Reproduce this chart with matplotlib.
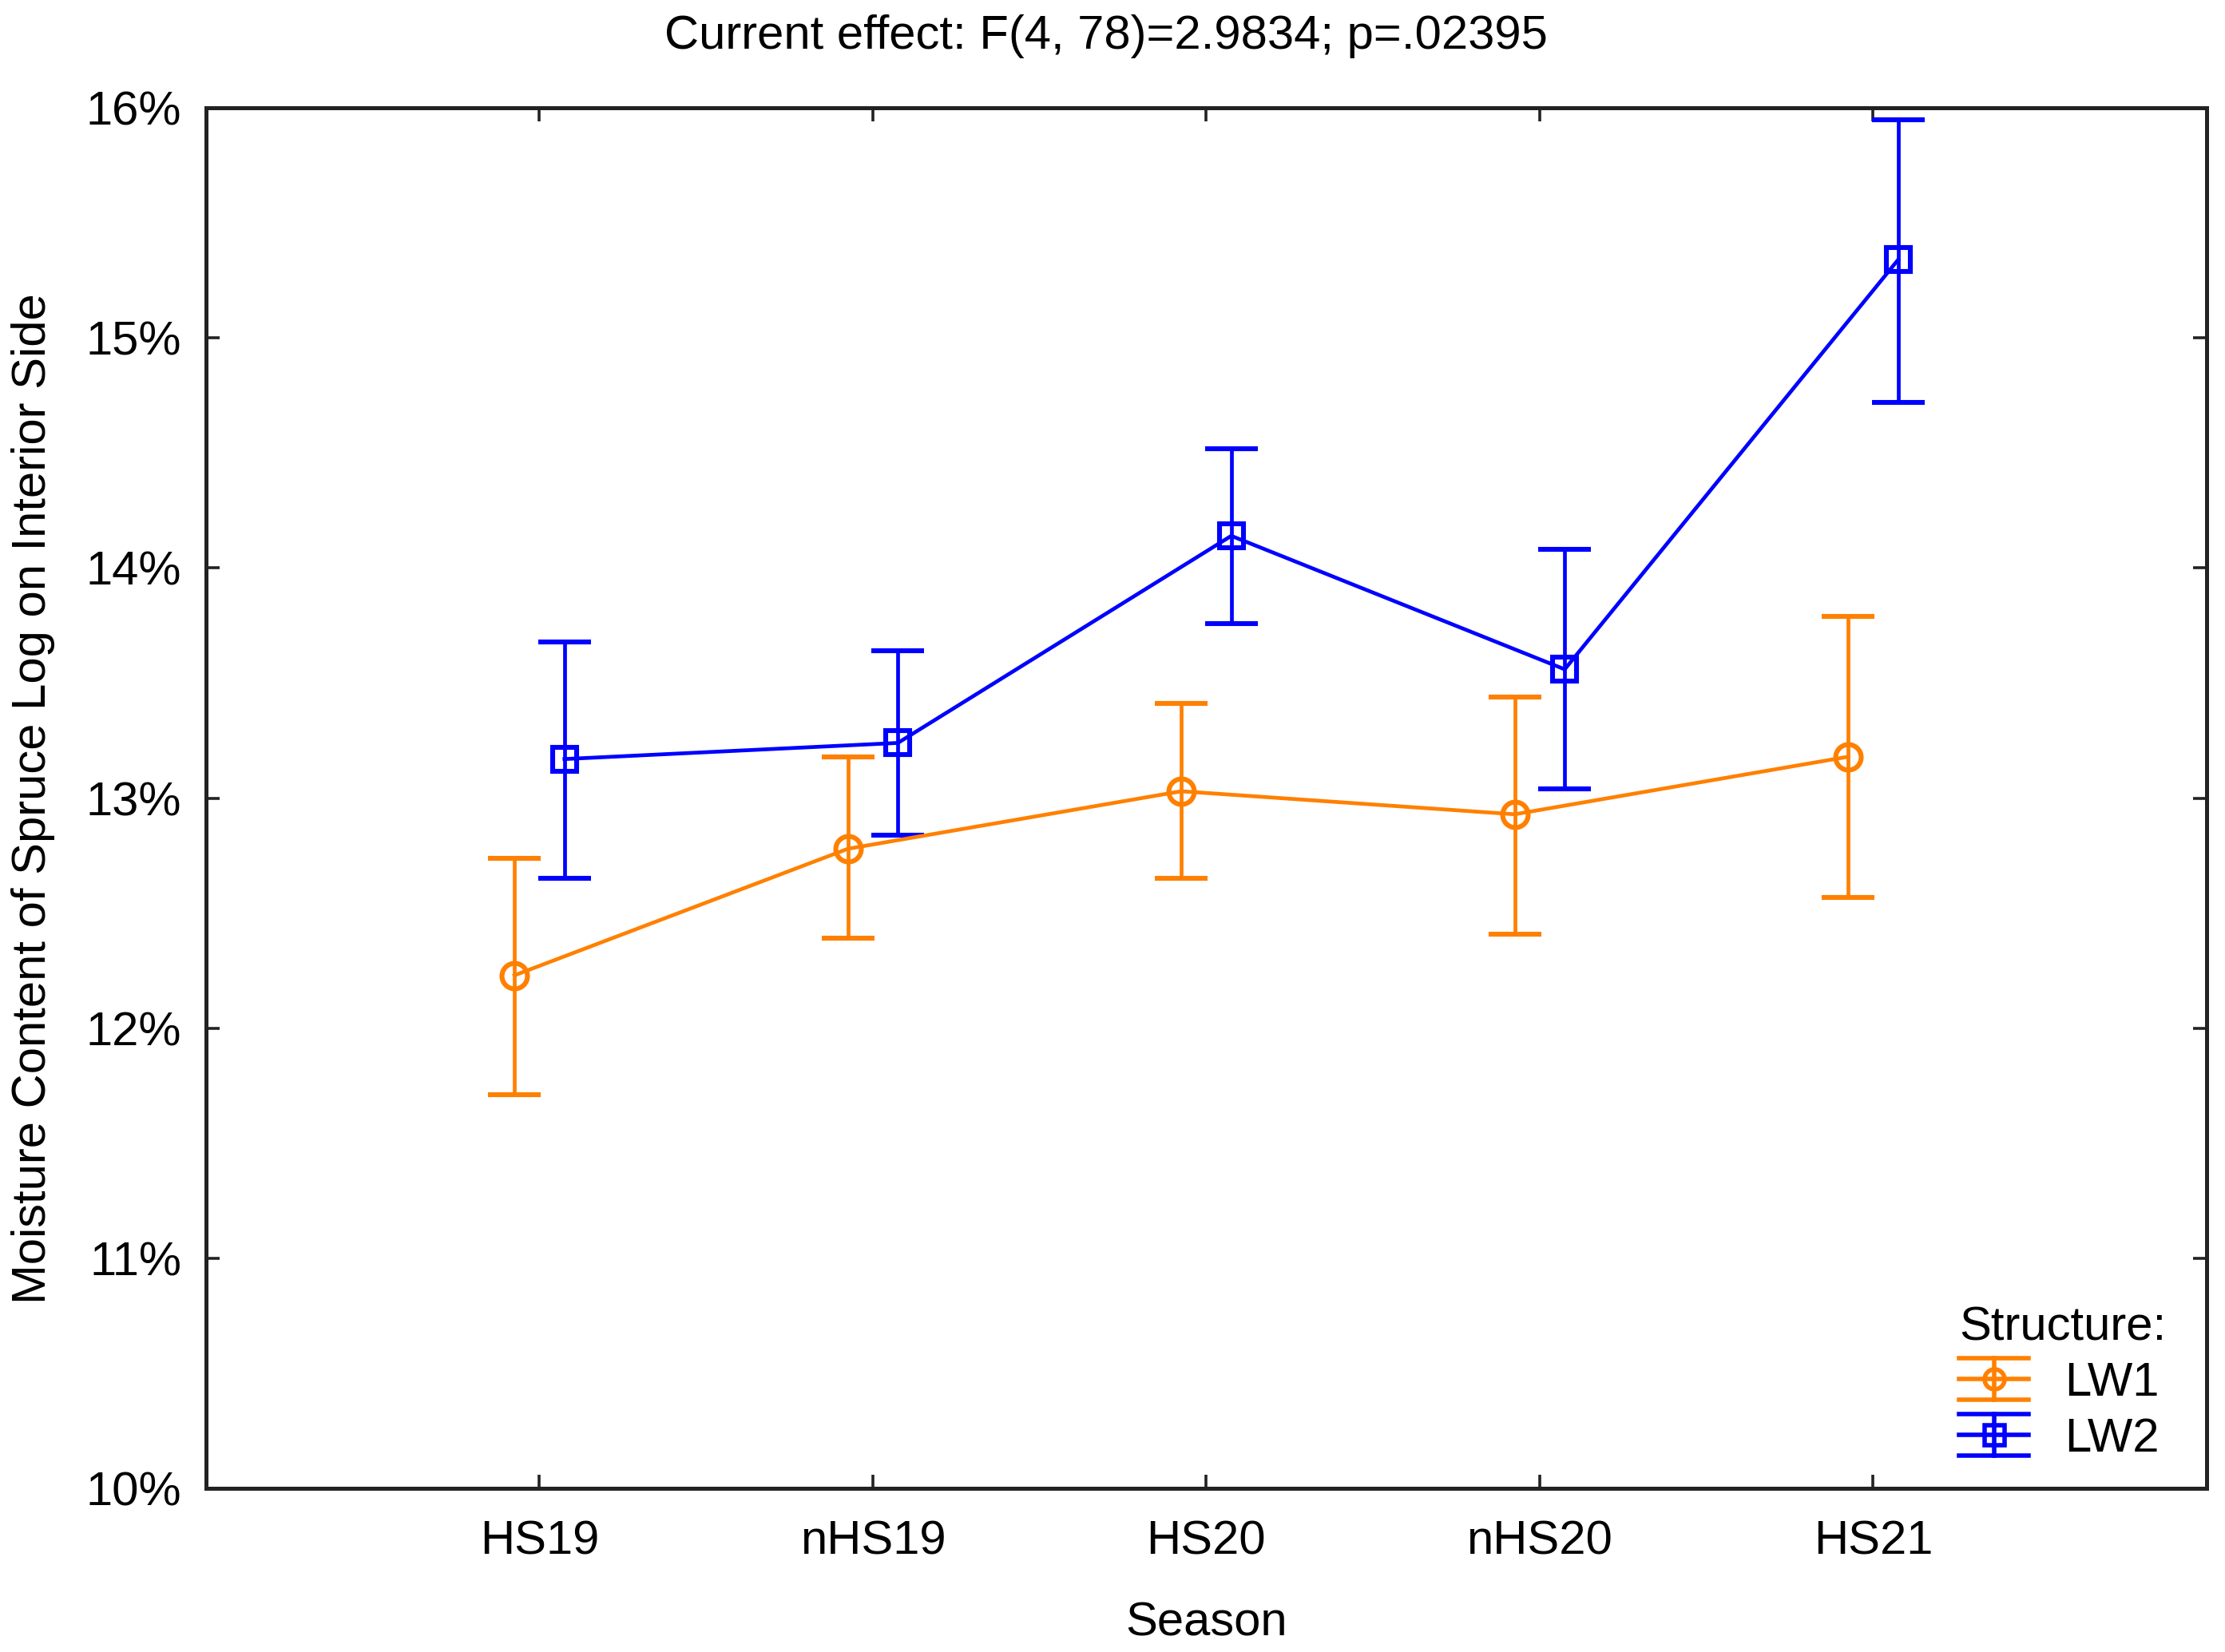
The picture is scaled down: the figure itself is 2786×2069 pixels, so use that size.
import matplotlib.pyplot as plt
from matplotlib.legend_handler import HandlerBase
from matplotlib.lines import Line2D
from matplotlib.ticker import FuncFormatter

plt.rcParams['font.family'] = ['Liberation Sans', 'DejaVu Sans']

seasons = ['HS19', 'nHS19', 'HS20', 'nHS20', 'HS21']

lw1_mean = [12.23, 12.78, 13.03, 12.93, 13.18]
lw1_upper = [12.74, 13.18, 13.41, 13.44, 13.79]
lw1_lower = [11.71, 12.39, 12.65, 12.41, 12.57]

lw2_mean = [13.17, 13.24, 14.14, 13.56, 15.34]
lw2_upper = [13.68, 13.64, 14.52, 14.08, 15.95]
lw2_lower = [12.65, 12.84, 13.76, 13.04, 14.72]

ORANGE = '#ff8000'
BLUE = '#0000ff'
OFFSET = 0.075
FS = 21.5


class HandlerStructure(HandlerBase):
    def create_artists(self, legend, orig_handle, xdescent, ydescent,
                       width, height, fontsize, trans):
        color = orig_handle.get_color()
        marker = orig_handle.get_marker()
        ymid = height / 2 - ydescent
        dy = height * 0.62
        x0, x1 = -xdescent, -xdescent + width
        xm = (x0 + x1) / 2
        artists = []
        for y in (ymid - dy, ymid, ymid + dy):
            artists.append(Line2D([x0, x1], [y, y], color=color, lw=2.0))
        artists.append(Line2D([xm, xm], [ymid - dy, ymid + dy], color=color, lw=2.0))
        artists.append(Line2D([xm], [ymid], marker=marker, markersize=9,
                              markerfacecolor='none', markeredgecolor=color,
                              markeredgewidth=2.0, linestyle='none'))
        for a in artists:
            a.set_transform(trans)
        return artists


def draw_series(ax, shift, mean, upper, lower, color, marker, size, label):
    x = [i + shift for i in range(len(mean))]
    yerr = [[m - lo for m, lo in zip(mean, lower)],
            [up - m for m, up in zip(mean, upper)]]
    ax.errorbar(x, mean, yerr=yerr, color=color, lw=1.7, elinewidth=1.7,
                capsize=12, capthick=2.0, marker=marker, markersize=size,
                markerfacecolor='none', markeredgewidth=2.2, zorder=3)
    return Line2D([], [], color=color, marker=marker, label=label)


fig = plt.figure(figsize=(13.93, 10.345), dpi=200)
ax = fig.add_axes([0.0926, 0.099, 0.8991, 0.8357])

h1 = draw_series(ax, -OFFSET, lw1_mean, lw1_upper, lw1_lower, ORANGE, 'o', 11.5, 'LW1')
h2 = draw_series(ax, OFFSET, lw2_mean, lw2_upper, lw2_lower, BLUE, 's', 11, 'LW2')

ax.set_xlim(-1, 5)
ax.set_ylim(10, 16)
ax.set_xticks(range(len(seasons)))
ax.set_xticklabels(seasons)
ax.set_yticks(range(10, 17))
ax.yaxis.set_major_formatter(FuncFormatter(lambda v, p: f'{v:.0f}%'))

ax.tick_params(direction='in', length=6, width=1.3, labelsize=FS,
               top=True, right=True, color='#222222')
ax.tick_params(axis='x', pad=14)
ax.tick_params(axis='y', pad=11)
for spine in ax.spines.values():
    spine.set_linewidth(1.8)
    spine.set_color('#222222')

ax.set_xlabel('Season', fontsize=FS, labelpad=17)
ax.set_ylabel('Moisture Content of Spruce Log on Interior Side', fontsize=FS, labelpad=14)

fig.text(0.497, 0.978, 'Current effect: F(4, 78)=2.9834; p=.02395',
         fontsize=FS, ha='center', va='center')

leg = ax.legend(handles=[h1, h2], title='Structure:', loc='lower right',
                bbox_to_anchor=(0.999, -0.008), frameon=False, fontsize=FS,
                title_fontsize=FS, handlelength=1.45, handletextpad=0.75,
                labelspacing=0.25, borderpad=0.3,
                handler_map={h1: HandlerStructure(), h2: HandlerStructure()})
leg._legend_box.align = 'left'

fig.savefig('out.png', dpi=200)
plt.close(fig)
